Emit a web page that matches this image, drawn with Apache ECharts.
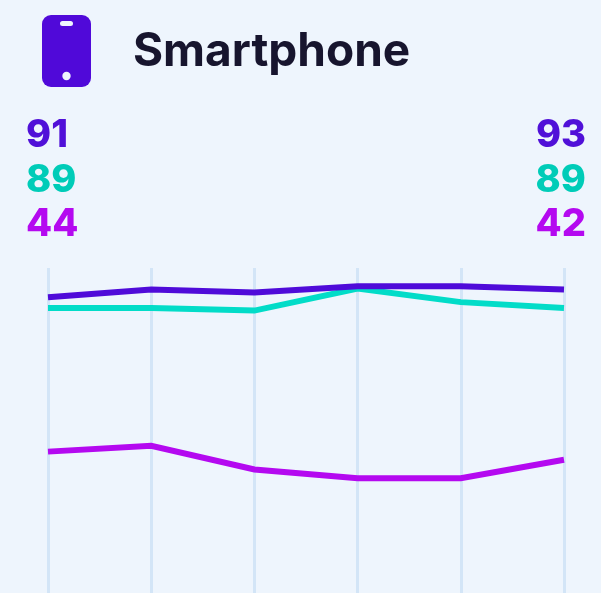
<!DOCTYPE html>
<html>
<head>
<meta charset="utf-8">
<script src="https://cdn.jsdelivr.net/npm/echarts@6/dist/echarts.min.js"></script>
<style>html,body{margin:0;padding:0;background:#eef5fd}#c{width:601px;height:593px}</style>
</head>
<body>
<div id="c"></div>
<script>
const title = "Smartphone";
const categories = ["P1","P2","P3","P4","P5","P6"];
const seriesA = [91.0,93.4,92.5,94.4,94.4,93.4];
const seriesB = [87.7,87.7,86.9,93.7,89.5,87.7];
const seriesC = [43.5,45.3,38.0,35.3,35.3,41.0];
const startLabels = ["91","89","44"];
const endLabels = ["93","89","42"];
const lineColors = ["#4f0bd9","#02dcc8","#b409f0"];
const labelColors = ["#5010d8","#00ccb8","#b409f0"];
const labelY = [136,181,225];
const font = "Inter";

const mk = (data,i)=>({type:"line",data,symbol:"none",silent:true,smooth:false,
  lineStyle:{color:lineColors[i],width:6,cap:"butt",join:"miter"}});

const graphics = [
  {type:"rect",shape:{x:42,y:15,width:49,height:72,r:9},style:{fill:"#5009d9"}},
  {type:"rect",shape:{x:60,y:21,width:13,height:5,r:2.5},style:{fill:"#eef5fd"}},
  {type:"circle",shape:{cx:66.5,cy:76,r:4.2},style:{fill:"#eef5fd"}},
  {type:"text",x:133,y:52,style:{text:title,fill:"#17152e",font:"700 46px "+font,textVerticalAlign:"middle",textAlign:"left"}}
];
startLabels.forEach((t,i)=>graphics.push({type:"text",x:26,y:labelY[i],style:{text:t,fill:labelColors[i],font:"800 38px "+font,textVerticalAlign:"middle",textAlign:"left"}}));
endLabels.forEach((t,i)=>graphics.push({type:"text",x:586,y:labelY[i],style:{text:t,fill:labelColors[i],font:"800 38px "+font,textVerticalAlign:"middle",textAlign:"right"}}));

const chart = echarts.init(document.getElementById("c"),null,{renderer:"canvas"});
chart.setOption({
  animation:false,
  backgroundColor:"#eef5fd",
  grid:{left:48,right:37,top:268,height:327,containLabel:false},
  xAxis:{type:"category",boundaryGap:false,data:categories,
    axisLine:{show:false},axisTick:{show:false},axisLabel:{show:false},
    splitLine:{show:true,lineStyle:{color:"#d3e5f7",width:3}}},
  yAxis:{type:"value",min:0,max:100,show:false,splitLine:{show:false}},
  series:[mk(seriesC,2),mk(seriesB,1),mk(seriesA,0)],
  graphic:graphics
});
</script>
</body>
</html>
